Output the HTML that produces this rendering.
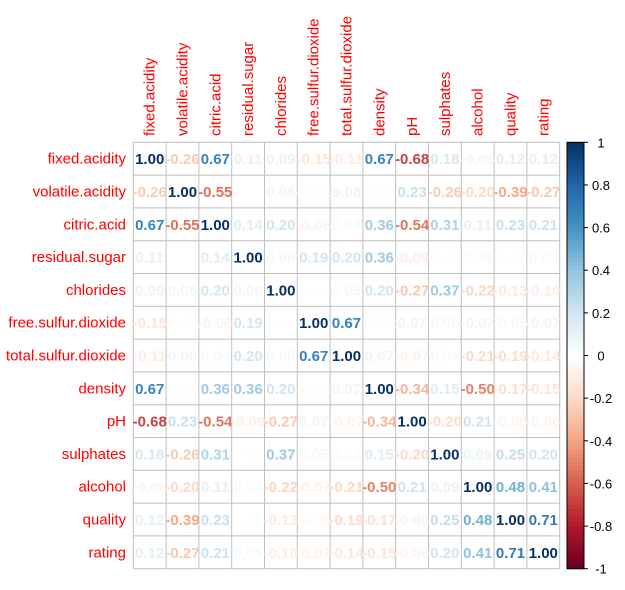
<!DOCTYPE html>
<html><head><meta charset="utf-8"><style>
body{margin:0;background:#fff;}
svg{display:block;font-family:"Liberation Sans",Arial,sans-serif;}
</style></head><body>
<svg id="chart" width="625" height="590"></svg>
<script>
const variables=["fixed.acidity","volatile.acidity","citric.acid","residual.sugar","chlorides","free.sulfur.dioxide","total.sulfur.dioxide","density","pH","sulphates","alcohol","quality","rating"];
const upperRows=[
[1,-0.26,0.67,0.11,0.09,-0.15,-0.11,0.67,-0.68,0.18,-0.06,0.12,0.12],
[1,-0.55,0.00,0.06,-0.01,0.08,0.02,0.23,-0.26,-0.20,-0.39,-0.27],
[1,0.14,0.20,-0.06,0.04,0.36,-0.54,0.31,0.11,0.23,0.21],
[1,0.06,0.19,0.20,0.36,-0.09,0.01,0.04,0.01,0.05],
[1,0.01,0.05,0.20,-0.27,0.37,-0.22,-0.13,-0.10],
[1,0.67,-0.02,0.07,0.05,-0.07,-0.05,-0.07],
[1,0.07,-0.07,0.04,-0.21,-0.19,-0.14],
[1,-0.34,0.15,-0.50,-0.17,-0.15],
[1,-0.20,0.21,-0.06,-0.06],
[1,0.09,0.25,0.20],
[1,0.48,0.41],
[1,0.71],
[1]];
const colorTicks=[1,0.8,0.6,0.4,0.2,0,-0.2,-0.4,-0.6,-0.8,-1];
const palette=["#67001F","#B2182B","#D6604D","#F4A582","#FDDBC7","#FFFFFF","#D1E5F0","#92C5DE","#4393C3","#2166AC","#053061"];

const NS="http://www.w3.org/2000/svg";
const svg=document.getElementById('chart');
const n=variables.length;
const gx=133.3,gy=142.3,cs=32.8;
const xPos=j=>gx+j*cs, yPos=i=>gy+i*cs;
const cbTop=142.3,cbBot=568.7,cbX=567,cbW=17;
const cbY=v=>cbTop+(1-v)/2*(cbBot-cbTop);
function hex(h){return [1,3,5].map(k=>parseInt(h.substr(k,2),16));}
function col(v){
  const t=(v+1)/2*(palette.length-1);
  const i=Math.min(Math.floor(t),palette.length-2), f=t-i;
  const a=hex(palette[i]),b=hex(palette[i+1]);
  return 'rgb('+a.map((x,k)=>Math.round(x+(b[k]-x)*f)).join(',')+')';
}
function el(tag,attrs,parent){const e=document.createElementNS(NS,tag);for(const k in attrs)e.setAttribute(k,attrs[k]);(parent||svg).appendChild(e);return e;}
function val(i,j){return i<=j?upperRows[i][j-i]:upperRows[j][i-j];}

// grid
for(let i=0;i<=n;i++){
  const h=el('line',{x1:gx,x2:xPos(n),y1:yPos(i),y2:yPos(i),stroke:'#bfbfbf','stroke-width':1});
  
  
  const v=el('line',{x1:xPos(i),x2:xPos(i),y1:gy,y2:yPos(n),stroke:'#bfbfbf','stroke-width':1});
  
  
}
// labels
variables.forEach((name,i)=>{
  const r=el('text',{x:126,y:yPos(i)+cs/2+5,'text-anchor':'end',fill:'#ff0000','font-size':15});
  r.textContent=name;
  
  
  const cx=xPos(i)+cs/2+5;
  const c=el('text',{x:0,y:0,transform:'translate('+cx+',136) rotate(-90)','text-anchor':'start',fill:'#ff0000','font-size':15});
  c.textContent=name;
  
  
});
// cells
for(let i=0;i<n;i++)for(let j=0;j<n;j++){
  const v=val(i,j);
  const t=el('text',{x:xPos(j)+cs/2,y:yPos(i)+cs/2+5.5,'text-anchor':'middle',fill:col(v),'font-size':15,'font-weight':'bold'});
  t.textContent=v.toFixed(2);
  
  
}
// colorbar
const steps=100;
for(let k=0;k<steps;k++){
  const v1=1-2*k/steps,v2=1-2*(k+1)/steps;
  const r=el('rect',{x:cbX,y:cbY(v1),width:cbW,height:cbY(v2)-cbY(v1)+0.5,fill:col((v1+v2)/2)});
  
  
}
const border=el('rect',{x:cbX,y:cbTop,width:cbW,height:cbBot-cbTop,fill:'none',stroke:'#000','stroke-width':1});


colorTicks.forEach(v=>{
  const y=cbY(v);
  const l=el('line',{x1:cbX+cbW,x2:cbX+cbW+4,y1:y,y2:y,stroke:'#000'});
  
  
  const t=el('text',{x:601,y:y+5,'text-anchor':'middle','font-size':13,fill:'#000'});
  t.textContent=String(v);
  
  
});
</script>
</body></html>
